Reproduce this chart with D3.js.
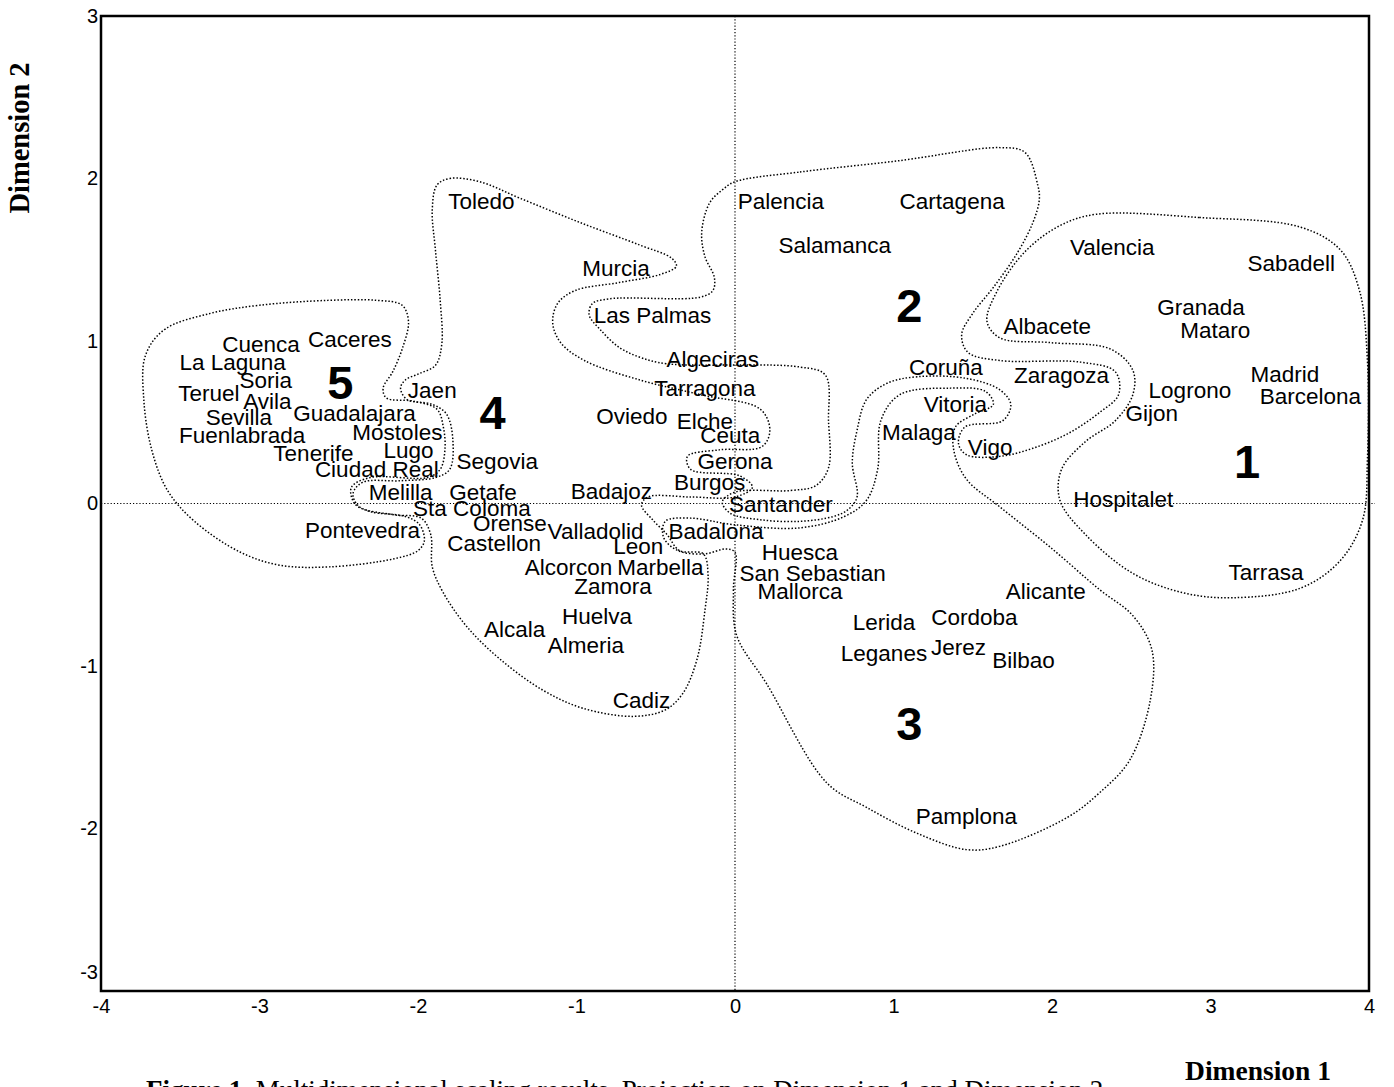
<!DOCTYPE html>
<html>
<head>
<meta charset="utf-8">
<script src="https://cdn.jsdelivr.net/npm/d3@7"></script>
<style>
  body { margin: 0; background: #fff; }
  svg { display: block; }
</style>
</head>
<body>
<svg id="chart" width="1394" height="1087"></svg>
<script>
// City coordinates on the two MDS dimensions
const cities = ["Cuenca","Caceres","La Laguna","Soria","Teruel","Avila","Guadalajara","Sevilla","Fuenlabrada","Mostoles",
  "Tenerife","Lugo","Ciudad Real","Melilla","Sta Coloma","Pontevedra","Jaen","Segovia","Getafe","Orense",
  "Castellon","Valladolid","Leon","Alcorcon","Marbella","Zamora","Huelva","Alcala","Almeria","Cadiz",
  "Badajoz","Oviedo","Algeciras","Tarragona","Elche","Ceuta","Gerona","Burgos","Santander","Badalona",
  "Toledo","Murcia","Las Palmas","Palencia","Cartagena","Salamanca","Coruña","Zaragoza","Vitoria","Malaga",
  "Vigo","Huesca","San Sebastian","Mallorca","Alicante","Lerida","Cordoba","Leganes","Jerez","Bilbao",
  "Pamplona","Valencia","Sabadell","Granada","Mataro","Albacete","Madrid","Barcelona","Logrono","Gijon",
  "Hospitalet","Tarrasa"];
const dim1 = [-2.99,-2.43,-3.17,-2.96,-3.32,-2.95,-2.40,-3.13,-3.11,-2.13,
  -2.66,-2.06,-2.26,-2.11,-1.66,-2.35,-1.91,-1.50,-1.59,-1.42,
  -1.52,-0.88,-0.61,-1.05,-0.47,-0.77,-0.87,-1.39,-0.94,-0.59,
  -0.78,-0.65,-0.14,-0.19,-0.19,-0.03,0.00,-0.16,0.29,-0.12,
  -1.60,-0.75,-0.52,0.29,1.37,0.63,1.33,2.06,1.39,1.16,
  1.61,0.41,0.49,0.41,1.96,0.94,1.51,0.94,1.41,1.82,
  1.46,2.38,3.51,2.94,3.03,1.97,3.47,3.63,2.87,2.63,
  2.45,3.35];
const dim2 = [0.98,1.01,0.87,0.76,0.68,0.63,0.56,0.53,0.42,0.44,
  0.31,0.33,0.21,0.07,-0.03,-0.16,0.70,0.26,0.07,-0.12,
  -0.24,-0.17,-0.26,-0.39,-0.39,-0.51,-0.69,-0.77,-0.87,-1.21,
  0.08,0.54,0.89,0.71,0.51,0.42,0.26,0.13,0.00,-0.17,
  1.86,1.45,1.16,1.86,1.86,1.59,0.84,0.79,0.61,0.44,
  0.35,-0.30,-0.43,-0.54,-0.54,-0.73,-0.70,-0.92,-0.88,-0.96,
  -1.92,1.58,1.48,1.21,1.07,1.09,0.80,0.66,0.70,0.56,
  0.03,-0.42];

// Cluster numbers and where they sit
const clusterIds = ["1","2","3","4","5"];
const clusterDim1 = [3.23, 1.10, 1.10, -1.53, -2.49];
const clusterDim2 = [0.26, 1.22, -1.35, 0.56, 0.75];

// Outlines drawn around each cluster (dimension units)
const outline1 = [[2.28,1.78],[2.93,1.76],[3.57,1.70],[3.82,1.56],[3.94,1.31],[3.99,0.88],[3.99,0.27],[3.96,-0.10],
  [3.82,-0.35],[3.57,-0.52],[3.14,-0.58],[2.83,-0.55],[2.51,-0.43],[2.21,-0.19],[2.05,0.02],[2.06,0.21],[2.21,0.38],
  [2.40,0.51],[2.51,0.67],[2.51,0.82],[2.37,0.95],[1.99,0.99],[1.67,1.02],[1.59,1.12],[1.65,1.30],[1.83,1.55],[2.05,1.71]];
const outline2 = [[0.00,1.98],[0.41,2.04],[1.04,2.11],[1.67,2.19],[1.83,2.16],[1.91,1.96],[1.92,1.87],[1.88,1.73],
  [1.78,1.54],[1.63,1.33],[1.50,1.17],[1.43,1.04],[1.47,0.93],[1.67,0.88],[2.18,0.87],[2.40,0.81],[2.42,0.67],[2.30,0.56],[2.10,0.43],
  [1.88,0.34],[1.67,0.29],[1.46,0.30],[1.41,0.37],[1.45,0.47],[1.69,0.51],[1.74,0.61],[1.67,0.70],[1.46,0.77],
  [1.15,0.78],[0.96,0.74],[0.83,0.64],[0.77,0.45],[0.74,0.25],[0.77,0.04],[0.71,-0.04],[0.62,-0.08],[0.41,-0.11],
  [0.16,-0.10],[-0.03,-0.06],[-0.08,0.01],[0.00,0.07],[0.35,0.08],[0.51,0.11],[0.59,0.22],[0.59,0.51],[0.57,0.79],
  [0.41,0.84],[-0.43,0.86],[-0.60,0.90],[-0.73,0.96],[-0.85,1.07],[-0.92,1.16],[-0.90,1.23],[-0.79,1.26],
  [-0.22,1.27],[-0.14,1.31],[-0.13,1.39],[-0.19,1.52],[-0.21,1.67],[-0.16,1.85],[-0.08,1.93]];
const outline3 = [[0.00,-0.30],[-0.01,-0.53],[0.01,-0.81],[0.20,-1.11],[0.58,-1.72],[0.83,-1.87],[1.15,-2.03],
  [1.46,-2.13],[1.67,-2.11],[2.10,-1.93],[2.30,-1.78],[2.49,-1.58],[2.62,-1.21],[2.63,-0.90],[2.51,-0.69],
  [2.30,-0.53],[1.99,-0.27],[1.67,-0.02],[1.46,0.15],[1.38,0.33],[1.39,0.47],[1.51,0.55],[1.63,0.61],[1.58,0.69],
  [1.36,0.71],[1.04,0.67],[0.92,0.51],[0.90,0.21],[0.83,0.02],[0.69,-0.08],[0.41,-0.15],[-0.01,-0.13],
  [-0.28,-0.09],[-0.44,-0.11],[-0.45,-0.21],[-0.36,-0.29],[-0.19,-0.31],[-0.06,-0.28]];
const outline4 = [[-1.88,1.96],[-1.80,2.00],[-1.61,1.98],[-1.36,1.88],[-0.98,1.73],[-0.60,1.59],[-0.40,1.51],
  [-0.37,1.46],[-0.47,1.41],[-0.73,1.36],[-1.01,1.31],[-1.12,1.23],[-1.15,1.11],[-1.10,0.99],[-0.95,0.88],
  [-0.60,0.76],[-0.22,0.67],[0.16,0.58],[0.22,0.45],[0.17,0.35],[-0.10,0.33],[-0.30,0.29],[-0.28,0.21],
  [0.03,0.17],[0.11,0.10],[0.00,0.04],[-0.28,0.04],[-0.55,0.04],[-0.59,-0.01],[-0.52,-0.10],[-0.43,-0.19],
  [-0.35,-0.29],[-0.20,-0.31],[-0.17,-0.44],[-0.19,-0.66],[-0.24,-0.96],[-0.33,-1.17],[-0.44,-1.27],
  [-0.64,-1.31],[-0.96,-1.26],[-1.21,-1.15],[-1.48,-0.96],[-1.69,-0.76],[-1.84,-0.55],[-1.91,-0.39],
  [-1.92,-0.19],[-1.98,-0.09],[-2.15,-0.07],[-2.37,-0.02],[-2.41,0.06],[-2.35,0.13],[-2.11,0.14],[-1.89,0.16],
  [-1.80,0.21],[-1.78,0.39],[-1.82,0.55],[-1.91,0.61],[-2.07,0.64],[-2.11,0.71],[-2.08,0.76],[-1.99,0.80],
  [-1.89,0.85],[-1.85,0.98],[-1.86,1.25],[-1.89,1.56],[-1.91,1.81]];
const outline5 = [[-3.72,0.91],[-3.60,1.07],[-3.31,1.17],[-3.00,1.22],[-2.57,1.25],[-2.26,1.25],[-2.10,1.22],
  [-2.06,1.12],[-2.10,0.95],[-2.16,0.81],[-2.22,0.71],[-2.20,0.65],[-2.03,0.63],[-1.88,0.58],[-1.84,0.47],
  [-1.83,0.33],[-1.86,0.21],[-1.94,0.16],[-2.30,0.16],[-2.42,0.10],[-2.40,0.00],[-2.30,-0.05],[-2.08,-0.08],
  [-1.99,-0.13],[-1.96,-0.23],[-2.00,-0.29],[-2.15,-0.34],[-2.56,-0.39],[-2.87,-0.38],[-3.12,-0.30],
  [-3.41,-0.11],[-3.58,0.08],[-3.68,0.33],[-3.73,0.64]];
const outlines = [outline1, outline2, outline3, outline4, outline5];

const xTicks = [-4, -3, -2, -1, 0, 1, 2, 3, 4];
const yTicks = [-3, -2, -1, 0, 1, 2, 3];

const svg = d3.select("#chart");
const x = d3.scaleLinear().domain([-4, 4]).range([101, 1369]);
const y = d3.scaleLinear().domain([-3, 3]).range([991, 16]);

const sans = "'Liberation Sans', Arial, sans-serif";
const serif = "'Liberation Serif', 'Times New Roman', serif";

// reference lines through the origin
svg.append("line")
  .attr("x1", x(-4)).attr("x2", x(4) + 6).attr("y1", y(0)).attr("y2", y(0))
  .attr("stroke", "#000").attr("stroke-width", 1.2).attr("stroke-dasharray", "1.2,2");
svg.append("line")
  .attr("x1", x(0)).attr("x2", x(0)).attr("y1", y(3)).attr("y2", y(-3))
  .attr("stroke", "#000").attr("stroke-width", 1.2).attr("stroke-dasharray", "1.2,2");

// dotted cluster outlines
const outlineLine = d3.line()
  .x(d => x(d[0])).y(d => y(d[1]))
  .curve(d3.curveCatmullRomClosed.alpha(0.5));
svg.append("g").selectAll("path")
  .data(outlines)
  .join("path")
  .attr("d", outlineLine)
  .attr("fill", "none")
  .attr("stroke", "#000")
  .attr("stroke-width", 1.5)
  .attr("stroke-dasharray", "1.5,1.9");

// frame
svg.append("rect")
  .attr("x", x(-4)).attr("y", y(3))
  .attr("width", x(4) - x(-4)).attr("height", y(-3) - y(3))
  .attr("fill", "none").attr("stroke", "#000").attr("stroke-width", 2.5);

// axes (plain hyphen-minus for negative ticks)
const tickText = d => String(d);
const xAxis = svg.append("g")
  .attr("transform", `translate(0,${y(-3)})`)
  .call(d3.axisBottom(x).tickValues(xTicks).tickSize(0).tickPadding(8).tickFormat(tickText));
xAxis.select(".domain").remove();
xAxis.selectAll("text").attr("font-family", sans).attr("font-size", 20).attr("fill", "#000");

const yAxis = svg.append("g")
  .attr("transform", `translate(${x(-4)},0)`)
  .call(d3.axisLeft(y).tickValues(yTicks).tickSize(0).tickPadding(3).tickFormat(tickText));
yAxis.select(".domain").remove();
yAxis.selectAll("text").attr("font-family", sans).attr("font-size", 20).attr("fill", "#000");
// the bottom label is lifted clear of the x-axis labels
yAxis.selectAll(".tick").filter(d => d === -3).select("text").attr("y", -19);

// city labels
svg.append("g").selectAll("text")
  .data(cities)
  .join("text")
  .attr("x", (d, i) => x(dim1[i]))
  .attr("y", (d, i) => y(dim2[i]))
  .attr("dy", "0.36em")
  .attr("text-anchor", "middle")
  .attr("font-family", sans)
  .attr("font-size", 22.5)
  .attr("fill", "#000")
  .text(d => d);

// cluster numbers
svg.append("g").selectAll("text")
  .data(clusterIds)
  .join("text")
  .attr("x", (d, i) => x(clusterDim1[i]))
  .attr("y", (d, i) => y(clusterDim2[i]))
  .attr("dy", "0.36em")
  .attr("text-anchor", "middle")
  .attr("font-family", sans)
  .attr("font-weight", "bold")
  .attr("font-size", 47)
  .attr("fill", "#000")
  .text(d => d);

// axis titles
svg.append("text")
  .attr("x", 1258).attr("y", 1080)
  .attr("text-anchor", "middle")
  .attr("font-family", serif).attr("font-weight", "bold").attr("font-size", 27.5)
  .text("Dimension 1");
svg.append("text")
  .attr("transform", "translate(29,138) rotate(-90)")
  .attr("text-anchor", "middle")
  .attr("font-family", serif).attr("font-weight", "bold").attr("font-size", 28.5)
  .text("Dimension 2");

// figure caption, running off the bottom edge
const caption = svg.append("text")
  .attr("x", 146).attr("y", 1099)
  .attr("font-family", serif).attr("font-size", 27);
caption.append("tspan").attr("font-weight", "bold").text("Figure 1.");
caption.append("tspan").text(" Multidimensional scaling results. Projection on Dimension 1 and Dimension 2");
</script>
</body>
</html>
